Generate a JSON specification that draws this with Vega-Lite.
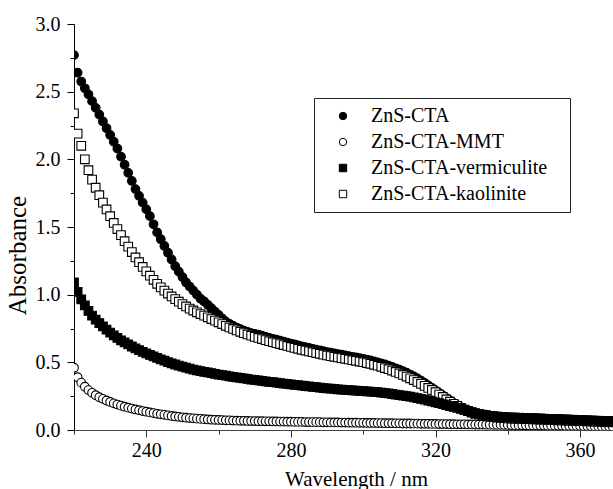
{"$schema":"https://vega.github.io/schema/vega-lite/v6.json","width":539,"height":406,"autosize":{"type":"none"},"padding":{"left":74,"top":24,"right":0,"bottom":59},"background":"white","config":{"view":{"stroke":null},"font":"'Liberation Serif', 'Times New Roman', Times, serif"},
"data":{"values":[
{"w":220,"a":2.77,"s":"ZnS-CTA"},{"w":221,"a":2.64,"s":"ZnS-CTA"},{"w":222,"a":2.575,"s":"ZnS-CTA"},{"w":223,"a":2.525,"s":"ZnS-CTA"},{"w":224,"a":2.48,"s":"ZnS-CTA"},{"w":225,"a":2.43,"s":"ZnS-CTA"},{"w":226,"a":2.38,"s":"ZnS-CTA"},{"w":227,"a":2.33,"s":"ZnS-CTA"},{"w":228,"a":2.28,"s":"ZnS-CTA"},{"w":229,"a":2.23,"s":"ZnS-CTA"},{"w":230,"a":2.18,"s":"ZnS-CTA"},{"w":231,"a":2.13,"s":"ZnS-CTA"},{"w":232,"a":2.08,"s":"ZnS-CTA"},{"w":233,"a":2.02,"s":"ZnS-CTA"},{"w":234,"a":1.96,"s":"ZnS-CTA"},{"w":235,"a":1.9,"s":"ZnS-CTA"},{"w":236,"a":1.84,"s":"ZnS-CTA"},{"w":237,"a":1.78,"s":"ZnS-CTA"},{"w":238,"a":1.73,"s":"ZnS-CTA"},{"w":239,"a":1.68,"s":"ZnS-CTA"},{"w":240,"a":1.63,"s":"ZnS-CTA"},{"w":241,"a":1.58,"s":"ZnS-CTA"},{"w":242,"a":1.52,"s":"ZnS-CTA"},{"w":243,"a":1.46,"s":"ZnS-CTA"},{"w":244,"a":1.41,"s":"ZnS-CTA"},{"w":245,"a":1.36,"s":"ZnS-CTA"},{"w":246,"a":1.31,"s":"ZnS-CTA"},{"w":247,"a":1.26,"s":"ZnS-CTA"},{"w":248,"a":1.21,"s":"ZnS-CTA"},{"w":249,"a":1.17,"s":"ZnS-CTA"},{"w":250,"a":1.13,"s":"ZnS-CTA"},{"w":251,"a":1.09,"s":"ZnS-CTA"},{"w":252,"a":1.06,"s":"ZnS-CTA"},{"w":253,"a":1.03,"s":"ZnS-CTA"},{"w":254,"a":1.0,"s":"ZnS-CTA"},{"w":255,"a":0.97,"s":"ZnS-CTA"},{"w":256,"a":0.95,"s":"ZnS-CTA"},{"w":257,"a":0.925,"s":"ZnS-CTA"},{"w":258,"a":0.9,"s":"ZnS-CTA"},{"w":259,"a":0.875,"s":"ZnS-CTA"},{"w":260,"a":0.85,"s":"ZnS-CTA"},{"w":261,"a":0.825,"s":"ZnS-CTA"},{"w":262,"a":0.8,"s":"ZnS-CTA"},{"w":263,"a":0.785,"s":"ZnS-CTA"},{"w":264,"a":0.77,"s":"ZnS-CTA"},{"w":265,"a":0.757,"s":"ZnS-CTA"},{"w":266,"a":0.745,"s":"ZnS-CTA"},{"w":267,"a":0.735,"s":"ZnS-CTA"},{"w":268,"a":0.725,"s":"ZnS-CTA"},{"w":269,"a":0.716,"s":"ZnS-CTA"},{"w":270,"a":0.71,"s":"ZnS-CTA"},{"w":271,"a":0.705,"s":"ZnS-CTA"},{"w":272,"a":0.697,"s":"ZnS-CTA"},{"w":273,"a":0.689,"s":"ZnS-CTA"},{"w":274,"a":0.681,"s":"ZnS-CTA"},{"w":275,"a":0.674,"s":"ZnS-CTA"},{"w":276,"a":0.667,"s":"ZnS-CTA"},{"w":277,"a":0.66,"s":"ZnS-CTA"},{"w":278,"a":0.653,"s":"ZnS-CTA"},{"w":279,"a":0.646,"s":"ZnS-CTA"},{"w":280,"a":0.639,"s":"ZnS-CTA"},{"w":281,"a":0.632,"s":"ZnS-CTA"},{"w":282,"a":0.625,"s":"ZnS-CTA"},{"w":283,"a":0.618,"s":"ZnS-CTA"},{"w":284,"a":0.612,"s":"ZnS-CTA"},{"w":285,"a":0.606,"s":"ZnS-CTA"},{"w":286,"a":0.6,"s":"ZnS-CTA"},{"w":287,"a":0.594,"s":"ZnS-CTA"},{"w":288,"a":0.588,"s":"ZnS-CTA"},{"w":289,"a":0.582,"s":"ZnS-CTA"},{"w":290,"a":0.576,"s":"ZnS-CTA"},{"w":291,"a":0.571,"s":"ZnS-CTA"},{"w":292,"a":0.566,"s":"ZnS-CTA"},{"w":293,"a":0.561,"s":"ZnS-CTA"},{"w":294,"a":0.556,"s":"ZnS-CTA"},{"w":295,"a":0.551,"s":"ZnS-CTA"},{"w":296,"a":0.546,"s":"ZnS-CTA"},{"w":297,"a":0.541,"s":"ZnS-CTA"},{"w":298,"a":0.536,"s":"ZnS-CTA"},{"w":299,"a":0.531,"s":"ZnS-CTA"},{"w":300,"a":0.526,"s":"ZnS-CTA"},{"w":301,"a":0.52,"s":"ZnS-CTA"},{"w":302,"a":0.514,"s":"ZnS-CTA"},{"w":303,"a":0.507,"s":"ZnS-CTA"},{"w":304,"a":0.5,"s":"ZnS-CTA"},{"w":305,"a":0.492,"s":"ZnS-CTA"},{"w":306,"a":0.484,"s":"ZnS-CTA"},{"w":307,"a":0.475,"s":"ZnS-CTA"},{"w":308,"a":0.466,"s":"ZnS-CTA"},{"w":309,"a":0.456,"s":"ZnS-CTA"},{"w":310,"a":0.446,"s":"ZnS-CTA"},{"w":311,"a":0.435,"s":"ZnS-CTA"},{"w":312,"a":0.423,"s":"ZnS-CTA"},{"w":313,"a":0.41,"s":"ZnS-CTA"},{"w":314,"a":0.396,"s":"ZnS-CTA"},{"w":315,"a":0.381,"s":"ZnS-CTA"},{"w":316,"a":0.365,"s":"ZnS-CTA"},{"w":317,"a":0.348,"s":"ZnS-CTA"},{"w":318,"a":0.33,"s":"ZnS-CTA"},{"w":319,"a":0.312,"s":"ZnS-CTA"},{"w":320,"a":0.293,"s":"ZnS-CTA"},{"w":321,"a":0.274,"s":"ZnS-CTA"},{"w":322,"a":0.255,"s":"ZnS-CTA"},{"w":323,"a":0.236,"s":"ZnS-CTA"},{"w":324,"a":0.218,"s":"ZnS-CTA"},{"w":325,"a":0.2,"s":"ZnS-CTA"},{"w":326,"a":0.184,"s":"ZnS-CTA"},{"w":327,"a":0.169,"s":"ZnS-CTA"},{"w":328,"a":0.155,"s":"ZnS-CTA"},{"w":329,"a":0.143,"s":"ZnS-CTA"},{"w":330,"a":0.133,"s":"ZnS-CTA"},{"w":331,"a":0.125,"s":"ZnS-CTA"},{"w":332,"a":0.118,"s":"ZnS-CTA"},{"w":333,"a":0.113,"s":"ZnS-CTA"},{"w":334,"a":0.109,"s":"ZnS-CTA"},{"w":335,"a":0.106,"s":"ZnS-CTA"},{"w":336,"a":0.103,"s":"ZnS-CTA"},{"w":337,"a":0.101,"s":"ZnS-CTA"},{"w":338,"a":0.099,"s":"ZnS-CTA"},{"w":339,"a":0.097,"s":"ZnS-CTA"},{"w":340,"a":0.095,"s":"ZnS-CTA"},{"w":341,"a":0.094,"s":"ZnS-CTA"},{"w":342,"a":0.093,"s":"ZnS-CTA"},{"w":343,"a":0.092,"s":"ZnS-CTA"},{"w":344,"a":0.091,"s":"ZnS-CTA"},{"w":345,"a":0.09,"s":"ZnS-CTA"},{"w":346,"a":0.089,"s":"ZnS-CTA"},{"w":347,"a":0.088,"s":"ZnS-CTA"},{"w":348,"a":0.087,"s":"ZnS-CTA"},{"w":349,"a":0.086,"s":"ZnS-CTA"},{"w":350,"a":0.085,"s":"ZnS-CTA"},{"w":351,"a":0.084,"s":"ZnS-CTA"},{"w":352,"a":0.083,"s":"ZnS-CTA"},{"w":353,"a":0.082,"s":"ZnS-CTA"},{"w":354,"a":0.081,"s":"ZnS-CTA"},{"w":355,"a":0.08,"s":"ZnS-CTA"},{"w":356,"a":0.079,"s":"ZnS-CTA"},{"w":357,"a":0.078,"s":"ZnS-CTA"},{"w":358,"a":0.077,"s":"ZnS-CTA"},{"w":359,"a":0.076,"s":"ZnS-CTA"},{"w":360,"a":0.075,"s":"ZnS-CTA"},{"w":361,"a":0.074,"s":"ZnS-CTA"},{"w":362,"a":0.073,"s":"ZnS-CTA"},{"w":363,"a":0.072,"s":"ZnS-CTA"},{"w":364,"a":0.071,"s":"ZnS-CTA"},{"w":365,"a":0.07,"s":"ZnS-CTA"},{"w":366,"a":0.069,"s":"ZnS-CTA"},{"w":367,"a":0.068,"s":"ZnS-CTA"},{"w":368,"a":0.067,"s":"ZnS-CTA"},{"w":369,"a":0.066,"s":"ZnS-CTA"},
{"w":220,"a":0.46,"s":"ZnS-CTA-MMT"},{"w":221,"a":0.39,"s":"ZnS-CTA-MMT"},{"w":222,"a":0.35,"s":"ZnS-CTA-MMT"},{"w":223,"a":0.32,"s":"ZnS-CTA-MMT"},{"w":224,"a":0.295,"s":"ZnS-CTA-MMT"},{"w":225,"a":0.275,"s":"ZnS-CTA-MMT"},{"w":226,"a":0.257,"s":"ZnS-CTA-MMT"},{"w":227,"a":0.242,"s":"ZnS-CTA-MMT"},{"w":228,"a":0.23,"s":"ZnS-CTA-MMT"},{"w":229,"a":0.218,"s":"ZnS-CTA-MMT"},{"w":230,"a":0.207,"s":"ZnS-CTA-MMT"},{"w":231,"a":0.197,"s":"ZnS-CTA-MMT"},{"w":232,"a":0.188,"s":"ZnS-CTA-MMT"},{"w":233,"a":0.18,"s":"ZnS-CTA-MMT"},{"w":234,"a":0.172,"s":"ZnS-CTA-MMT"},{"w":235,"a":0.165,"s":"ZnS-CTA-MMT"},{"w":236,"a":0.158,"s":"ZnS-CTA-MMT"},{"w":237,"a":0.152,"s":"ZnS-CTA-MMT"},{"w":238,"a":0.146,"s":"ZnS-CTA-MMT"},{"w":239,"a":0.14,"s":"ZnS-CTA-MMT"},{"w":240,"a":0.135,"s":"ZnS-CTA-MMT"},{"w":241,"a":0.13,"s":"ZnS-CTA-MMT"},{"w":242,"a":0.125,"s":"ZnS-CTA-MMT"},{"w":243,"a":0.12,"s":"ZnS-CTA-MMT"},{"w":244,"a":0.116,"s":"ZnS-CTA-MMT"},{"w":245,"a":0.112,"s":"ZnS-CTA-MMT"},{"w":246,"a":0.108,"s":"ZnS-CTA-MMT"},{"w":247,"a":0.104,"s":"ZnS-CTA-MMT"},{"w":248,"a":0.1,"s":"ZnS-CTA-MMT"},{"w":249,"a":0.097,"s":"ZnS-CTA-MMT"},{"w":250,"a":0.094,"s":"ZnS-CTA-MMT"},{"w":251,"a":0.091,"s":"ZnS-CTA-MMT"},{"w":252,"a":0.088,"s":"ZnS-CTA-MMT"},{"w":253,"a":0.086,"s":"ZnS-CTA-MMT"},{"w":254,"a":0.084,"s":"ZnS-CTA-MMT"},{"w":255,"a":0.082,"s":"ZnS-CTA-MMT"},{"w":256,"a":0.08,"s":"ZnS-CTA-MMT"},{"w":257,"a":0.078,"s":"ZnS-CTA-MMT"},{"w":258,"a":0.076,"s":"ZnS-CTA-MMT"},{"w":259,"a":0.075,"s":"ZnS-CTA-MMT"},{"w":260,"a":0.074,"s":"ZnS-CTA-MMT"},{"w":261,"a":0.073,"s":"ZnS-CTA-MMT"},{"w":262,"a":0.072,"s":"ZnS-CTA-MMT"},{"w":263,"a":0.071,"s":"ZnS-CTA-MMT"},{"w":264,"a":0.07,"s":"ZnS-CTA-MMT"},{"w":265,"a":0.069,"s":"ZnS-CTA-MMT"},{"w":266,"a":0.068,"s":"ZnS-CTA-MMT"},{"w":267,"a":0.068,"s":"ZnS-CTA-MMT"},{"w":268,"a":0.067,"s":"ZnS-CTA-MMT"},{"w":269,"a":0.066,"s":"ZnS-CTA-MMT"},{"w":270,"a":0.066,"s":"ZnS-CTA-MMT"},{"w":271,"a":0.065,"s":"ZnS-CTA-MMT"},{"w":272,"a":0.065,"s":"ZnS-CTA-MMT"},{"w":273,"a":0.064,"s":"ZnS-CTA-MMT"},{"w":274,"a":0.064,"s":"ZnS-CTA-MMT"},{"w":275,"a":0.063,"s":"ZnS-CTA-MMT"},{"w":276,"a":0.063,"s":"ZnS-CTA-MMT"},{"w":277,"a":0.062,"s":"ZnS-CTA-MMT"},{"w":278,"a":0.062,"s":"ZnS-CTA-MMT"},{"w":279,"a":0.061,"s":"ZnS-CTA-MMT"},{"w":280,"a":0.061,"s":"ZnS-CTA-MMT"},{"w":281,"a":0.06,"s":"ZnS-CTA-MMT"},{"w":282,"a":0.06,"s":"ZnS-CTA-MMT"},{"w":283,"a":0.06,"s":"ZnS-CTA-MMT"},{"w":284,"a":0.059,"s":"ZnS-CTA-MMT"},{"w":285,"a":0.059,"s":"ZnS-CTA-MMT"},{"w":286,"a":0.058,"s":"ZnS-CTA-MMT"},{"w":287,"a":0.058,"s":"ZnS-CTA-MMT"},{"w":288,"a":0.058,"s":"ZnS-CTA-MMT"},{"w":289,"a":0.057,"s":"ZnS-CTA-MMT"},{"w":290,"a":0.057,"s":"ZnS-CTA-MMT"},{"w":291,"a":0.056,"s":"ZnS-CTA-MMT"},{"w":292,"a":0.056,"s":"ZnS-CTA-MMT"},{"w":293,"a":0.056,"s":"ZnS-CTA-MMT"},{"w":294,"a":0.055,"s":"ZnS-CTA-MMT"},{"w":295,"a":0.055,"s":"ZnS-CTA-MMT"},{"w":296,"a":0.054,"s":"ZnS-CTA-MMT"},{"w":297,"a":0.054,"s":"ZnS-CTA-MMT"},{"w":298,"a":0.054,"s":"ZnS-CTA-MMT"},{"w":299,"a":0.053,"s":"ZnS-CTA-MMT"},{"w":300,"a":0.053,"s":"ZnS-CTA-MMT"},{"w":301,"a":0.052,"s":"ZnS-CTA-MMT"},{"w":302,"a":0.052,"s":"ZnS-CTA-MMT"},{"w":303,"a":0.052,"s":"ZnS-CTA-MMT"},{"w":304,"a":0.051,"s":"ZnS-CTA-MMT"},{"w":305,"a":0.051,"s":"ZnS-CTA-MMT"},{"w":306,"a":0.05,"s":"ZnS-CTA-MMT"},{"w":307,"a":0.05,"s":"ZnS-CTA-MMT"},{"w":308,"a":0.05,"s":"ZnS-CTA-MMT"},{"w":309,"a":0.049,"s":"ZnS-CTA-MMT"},{"w":310,"a":0.049,"s":"ZnS-CTA-MMT"},{"w":311,"a":0.048,"s":"ZnS-CTA-MMT"},{"w":312,"a":0.048,"s":"ZnS-CTA-MMT"},{"w":313,"a":0.048,"s":"ZnS-CTA-MMT"},{"w":314,"a":0.047,"s":"ZnS-CTA-MMT"},{"w":315,"a":0.047,"s":"ZnS-CTA-MMT"},{"w":316,"a":0.046,"s":"ZnS-CTA-MMT"},{"w":317,"a":0.046,"s":"ZnS-CTA-MMT"},{"w":318,"a":0.046,"s":"ZnS-CTA-MMT"},{"w":319,"a":0.045,"s":"ZnS-CTA-MMT"},{"w":320,"a":0.045,"s":"ZnS-CTA-MMT"},{"w":321,"a":0.044,"s":"ZnS-CTA-MMT"},{"w":322,"a":0.044,"s":"ZnS-CTA-MMT"},{"w":323,"a":0.044,"s":"ZnS-CTA-MMT"},{"w":324,"a":0.043,"s":"ZnS-CTA-MMT"},{"w":325,"a":0.043,"s":"ZnS-CTA-MMT"},{"w":326,"a":0.042,"s":"ZnS-CTA-MMT"},{"w":327,"a":0.042,"s":"ZnS-CTA-MMT"},{"w":328,"a":0.042,"s":"ZnS-CTA-MMT"},{"w":329,"a":0.041,"s":"ZnS-CTA-MMT"},{"w":330,"a":0.041,"s":"ZnS-CTA-MMT"},{"w":331,"a":0.04,"s":"ZnS-CTA-MMT"},{"w":332,"a":0.04,"s":"ZnS-CTA-MMT"},{"w":333,"a":0.04,"s":"ZnS-CTA-MMT"},{"w":334,"a":0.039,"s":"ZnS-CTA-MMT"},{"w":335,"a":0.039,"s":"ZnS-CTA-MMT"},{"w":336,"a":0.038,"s":"ZnS-CTA-MMT"},{"w":337,"a":0.038,"s":"ZnS-CTA-MMT"},{"w":338,"a":0.038,"s":"ZnS-CTA-MMT"},{"w":339,"a":0.037,"s":"ZnS-CTA-MMT"},{"w":340,"a":0.037,"s":"ZnS-CTA-MMT"},{"w":341,"a":0.036,"s":"ZnS-CTA-MMT"},{"w":342,"a":0.036,"s":"ZnS-CTA-MMT"},{"w":343,"a":0.036,"s":"ZnS-CTA-MMT"},{"w":344,"a":0.035,"s":"ZnS-CTA-MMT"},{"w":345,"a":0.035,"s":"ZnS-CTA-MMT"},{"w":346,"a":0.034,"s":"ZnS-CTA-MMT"},{"w":347,"a":0.034,"s":"ZnS-CTA-MMT"},{"w":348,"a":0.034,"s":"ZnS-CTA-MMT"},{"w":349,"a":0.033,"s":"ZnS-CTA-MMT"},{"w":350,"a":0.033,"s":"ZnS-CTA-MMT"},{"w":351,"a":0.032,"s":"ZnS-CTA-MMT"},{"w":352,"a":0.032,"s":"ZnS-CTA-MMT"},{"w":353,"a":0.032,"s":"ZnS-CTA-MMT"},{"w":354,"a":0.031,"s":"ZnS-CTA-MMT"},{"w":355,"a":0.031,"s":"ZnS-CTA-MMT"},{"w":356,"a":0.03,"s":"ZnS-CTA-MMT"},{"w":357,"a":0.03,"s":"ZnS-CTA-MMT"},{"w":358,"a":0.03,"s":"ZnS-CTA-MMT"},{"w":359,"a":0.029,"s":"ZnS-CTA-MMT"},{"w":360,"a":0.029,"s":"ZnS-CTA-MMT"},{"w":361,"a":0.028,"s":"ZnS-CTA-MMT"},{"w":362,"a":0.028,"s":"ZnS-CTA-MMT"},{"w":363,"a":0.028,"s":"ZnS-CTA-MMT"},{"w":364,"a":0.027,"s":"ZnS-CTA-MMT"},{"w":365,"a":0.027,"s":"ZnS-CTA-MMT"},{"w":366,"a":0.026,"s":"ZnS-CTA-MMT"},{"w":367,"a":0.026,"s":"ZnS-CTA-MMT"},{"w":368,"a":0.026,"s":"ZnS-CTA-MMT"},{"w":369,"a":0.025,"s":"ZnS-CTA-MMT"},
{"w":220,"a":2.34,"s":"ZnS-CTA-kaolinite"},{"w":221,"a":2.19,"s":"ZnS-CTA-kaolinite"},{"w":222,"a":2.1,"s":"ZnS-CTA-kaolinite"},{"w":223,"a":2.0,"s":"ZnS-CTA-kaolinite"},{"w":224,"a":1.92,"s":"ZnS-CTA-kaolinite"},{"w":225,"a":1.85,"s":"ZnS-CTA-kaolinite"},{"w":226,"a":1.79,"s":"ZnS-CTA-kaolinite"},{"w":227,"a":1.735,"s":"ZnS-CTA-kaolinite"},{"w":228,"a":1.68,"s":"ZnS-CTA-kaolinite"},{"w":229,"a":1.63,"s":"ZnS-CTA-kaolinite"},{"w":230,"a":1.58,"s":"ZnS-CTA-kaolinite"},{"w":231,"a":1.53,"s":"ZnS-CTA-kaolinite"},{"w":232,"a":1.485,"s":"ZnS-CTA-kaolinite"},{"w":233,"a":1.44,"s":"ZnS-CTA-kaolinite"},{"w":234,"a":1.395,"s":"ZnS-CTA-kaolinite"},{"w":235,"a":1.355,"s":"ZnS-CTA-kaolinite"},{"w":236,"a":1.315,"s":"ZnS-CTA-kaolinite"},{"w":237,"a":1.275,"s":"ZnS-CTA-kaolinite"},{"w":238,"a":1.24,"s":"ZnS-CTA-kaolinite"},{"w":239,"a":1.205,"s":"ZnS-CTA-kaolinite"},{"w":240,"a":1.172,"s":"ZnS-CTA-kaolinite"},{"w":241,"a":1.14,"s":"ZnS-CTA-kaolinite"},{"w":242,"a":1.11,"s":"ZnS-CTA-kaolinite"},{"w":243,"a":1.08,"s":"ZnS-CTA-kaolinite"},{"w":244,"a":1.054,"s":"ZnS-CTA-kaolinite"},{"w":245,"a":1.03,"s":"ZnS-CTA-kaolinite"},{"w":246,"a":1.008,"s":"ZnS-CTA-kaolinite"},{"w":247,"a":0.987,"s":"ZnS-CTA-kaolinite"},{"w":248,"a":0.967,"s":"ZnS-CTA-kaolinite"},{"w":249,"a":0.948,"s":"ZnS-CTA-kaolinite"},{"w":250,"a":0.93,"s":"ZnS-CTA-kaolinite"},{"w":251,"a":0.913,"s":"ZnS-CTA-kaolinite"},{"w":252,"a":0.897,"s":"ZnS-CTA-kaolinite"},{"w":253,"a":0.883,"s":"ZnS-CTA-kaolinite"},{"w":254,"a":0.87,"s":"ZnS-CTA-kaolinite"},{"w":255,"a":0.857,"s":"ZnS-CTA-kaolinite"},{"w":256,"a":0.845,"s":"ZnS-CTA-kaolinite"},{"w":257,"a":0.833,"s":"ZnS-CTA-kaolinite"},{"w":258,"a":0.82,"s":"ZnS-CTA-kaolinite"},{"w":259,"a":0.808,"s":"ZnS-CTA-kaolinite"},{"w":260,"a":0.796,"s":"ZnS-CTA-kaolinite"},{"w":261,"a":0.783,"s":"ZnS-CTA-kaolinite"},{"w":262,"a":0.77,"s":"ZnS-CTA-kaolinite"},{"w":263,"a":0.758,"s":"ZnS-CTA-kaolinite"},{"w":264,"a":0.747,"s":"ZnS-CTA-kaolinite"},{"w":265,"a":0.736,"s":"ZnS-CTA-kaolinite"},{"w":266,"a":0.726,"s":"ZnS-CTA-kaolinite"},{"w":267,"a":0.716,"s":"ZnS-CTA-kaolinite"},{"w":268,"a":0.706,"s":"ZnS-CTA-kaolinite"},{"w":269,"a":0.697,"s":"ZnS-CTA-kaolinite"},{"w":270,"a":0.688,"s":"ZnS-CTA-kaolinite"},{"w":271,"a":0.68,"s":"ZnS-CTA-kaolinite"},{"w":272,"a":0.672,"s":"ZnS-CTA-kaolinite"},{"w":273,"a":0.664,"s":"ZnS-CTA-kaolinite"},{"w":274,"a":0.656,"s":"ZnS-CTA-kaolinite"},{"w":275,"a":0.649,"s":"ZnS-CTA-kaolinite"},{"w":276,"a":0.642,"s":"ZnS-CTA-kaolinite"},{"w":277,"a":0.635,"s":"ZnS-CTA-kaolinite"},{"w":278,"a":0.628,"s":"ZnS-CTA-kaolinite"},{"w":279,"a":0.621,"s":"ZnS-CTA-kaolinite"},{"w":280,"a":0.614,"s":"ZnS-CTA-kaolinite"},{"w":281,"a":0.607,"s":"ZnS-CTA-kaolinite"},{"w":282,"a":0.6,"s":"ZnS-CTA-kaolinite"},{"w":283,"a":0.593,"s":"ZnS-CTA-kaolinite"},{"w":284,"a":0.587,"s":"ZnS-CTA-kaolinite"},{"w":285,"a":0.581,"s":"ZnS-CTA-kaolinite"},{"w":286,"a":0.575,"s":"ZnS-CTA-kaolinite"},{"w":287,"a":0.569,"s":"ZnS-CTA-kaolinite"},{"w":288,"a":0.563,"s":"ZnS-CTA-kaolinite"},{"w":289,"a":0.557,"s":"ZnS-CTA-kaolinite"},{"w":290,"a":0.551,"s":"ZnS-CTA-kaolinite"},{"w":291,"a":0.546,"s":"ZnS-CTA-kaolinite"},{"w":292,"a":0.541,"s":"ZnS-CTA-kaolinite"},{"w":293,"a":0.536,"s":"ZnS-CTA-kaolinite"},{"w":294,"a":0.531,"s":"ZnS-CTA-kaolinite"},{"w":295,"a":0.526,"s":"ZnS-CTA-kaolinite"},{"w":296,"a":0.521,"s":"ZnS-CTA-kaolinite"},{"w":297,"a":0.516,"s":"ZnS-CTA-kaolinite"},{"w":298,"a":0.511,"s":"ZnS-CTA-kaolinite"},{"w":299,"a":0.506,"s":"ZnS-CTA-kaolinite"},{"w":300,"a":0.501,"s":"ZnS-CTA-kaolinite"},{"w":301,"a":0.495,"s":"ZnS-CTA-kaolinite"},{"w":302,"a":0.489,"s":"ZnS-CTA-kaolinite"},{"w":303,"a":0.482,"s":"ZnS-CTA-kaolinite"},{"w":304,"a":0.475,"s":"ZnS-CTA-kaolinite"},{"w":305,"a":0.467,"s":"ZnS-CTA-kaolinite"},{"w":306,"a":0.458,"s":"ZnS-CTA-kaolinite"},{"w":307,"a":0.449,"s":"ZnS-CTA-kaolinite"},{"w":308,"a":0.439,"s":"ZnS-CTA-kaolinite"},{"w":309,"a":0.429,"s":"ZnS-CTA-kaolinite"},{"w":310,"a":0.418,"s":"ZnS-CTA-kaolinite"},{"w":311,"a":0.407,"s":"ZnS-CTA-kaolinite"},{"w":312,"a":0.395,"s":"ZnS-CTA-kaolinite"},{"w":313,"a":0.382,"s":"ZnS-CTA-kaolinite"},{"w":314,"a":0.369,"s":"ZnS-CTA-kaolinite"},{"w":315,"a":0.355,"s":"ZnS-CTA-kaolinite"},{"w":316,"a":0.341,"s":"ZnS-CTA-kaolinite"},{"w":317,"a":0.326,"s":"ZnS-CTA-kaolinite"},{"w":318,"a":0.311,"s":"ZnS-CTA-kaolinite"},{"w":319,"a":0.296,"s":"ZnS-CTA-kaolinite"},{"w":320,"a":0.279,"s":"ZnS-CTA-kaolinite"},{"w":321,"a":0.262,"s":"ZnS-CTA-kaolinite"},{"w":322,"a":0.244,"s":"ZnS-CTA-kaolinite"},{"w":323,"a":0.226,"s":"ZnS-CTA-kaolinite"},{"w":324,"a":0.209,"s":"ZnS-CTA-kaolinite"},{"w":325,"a":0.193,"s":"ZnS-CTA-kaolinite"},{"w":326,"a":0.178,"s":"ZnS-CTA-kaolinite"},{"w":327,"a":0.164,"s":"ZnS-CTA-kaolinite"},{"w":328,"a":0.151,"s":"ZnS-CTA-kaolinite"},{"w":329,"a":0.139,"s":"ZnS-CTA-kaolinite"},{"w":330,"a":0.129,"s":"ZnS-CTA-kaolinite"},{"w":331,"a":0.12,"s":"ZnS-CTA-kaolinite"},{"w":332,"a":0.113,"s":"ZnS-CTA-kaolinite"},{"w":333,"a":0.107,"s":"ZnS-CTA-kaolinite"},{"w":334,"a":0.102,"s":"ZnS-CTA-kaolinite"},{"w":335,"a":0.098,"s":"ZnS-CTA-kaolinite"},{"w":336,"a":0.095,"s":"ZnS-CTA-kaolinite"},{"w":337,"a":0.092,"s":"ZnS-CTA-kaolinite"},{"w":338,"a":0.09,"s":"ZnS-CTA-kaolinite"},{"w":339,"a":0.088,"s":"ZnS-CTA-kaolinite"},{"w":340,"a":0.086,"s":"ZnS-CTA-kaolinite"},{"w":341,"a":0.085,"s":"ZnS-CTA-kaolinite"},{"w":342,"a":0.084,"s":"ZnS-CTA-kaolinite"},{"w":343,"a":0.083,"s":"ZnS-CTA-kaolinite"},{"w":344,"a":0.082,"s":"ZnS-CTA-kaolinite"},{"w":345,"a":0.081,"s":"ZnS-CTA-kaolinite"},{"w":346,"a":0.08,"s":"ZnS-CTA-kaolinite"},{"w":347,"a":0.079,"s":"ZnS-CTA-kaolinite"},{"w":348,"a":0.078,"s":"ZnS-CTA-kaolinite"},{"w":349,"a":0.077,"s":"ZnS-CTA-kaolinite"},{"w":350,"a":0.076,"s":"ZnS-CTA-kaolinite"},{"w":351,"a":0.075,"s":"ZnS-CTA-kaolinite"},{"w":352,"a":0.074,"s":"ZnS-CTA-kaolinite"},{"w":353,"a":0.073,"s":"ZnS-CTA-kaolinite"},{"w":354,"a":0.072,"s":"ZnS-CTA-kaolinite"},{"w":355,"a":0.071,"s":"ZnS-CTA-kaolinite"},{"w":356,"a":0.07,"s":"ZnS-CTA-kaolinite"},{"w":357,"a":0.069,"s":"ZnS-CTA-kaolinite"},{"w":358,"a":0.068,"s":"ZnS-CTA-kaolinite"},{"w":359,"a":0.067,"s":"ZnS-CTA-kaolinite"},{"w":360,"a":0.066,"s":"ZnS-CTA-kaolinite"},{"w":361,"a":0.065,"s":"ZnS-CTA-kaolinite"},{"w":362,"a":0.064,"s":"ZnS-CTA-kaolinite"},{"w":363,"a":0.063,"s":"ZnS-CTA-kaolinite"},{"w":364,"a":0.062,"s":"ZnS-CTA-kaolinite"},{"w":365,"a":0.061,"s":"ZnS-CTA-kaolinite"},{"w":366,"a":0.06,"s":"ZnS-CTA-kaolinite"},{"w":367,"a":0.059,"s":"ZnS-CTA-kaolinite"},{"w":368,"a":0.058,"s":"ZnS-CTA-kaolinite"},{"w":369,"a":0.057,"s":"ZnS-CTA-kaolinite"},
{"w":220,"a":1.09,"s":"ZnS-CTA-vermiculite"},{"w":221,"a":1.02,"s":"ZnS-CTA-vermiculite"},{"w":222,"a":0.965,"s":"ZnS-CTA-vermiculite"},{"w":223,"a":0.92,"s":"ZnS-CTA-vermiculite"},{"w":224,"a":0.88,"s":"ZnS-CTA-vermiculite"},{"w":225,"a":0.845,"s":"ZnS-CTA-vermiculite"},{"w":226,"a":0.815,"s":"ZnS-CTA-vermiculite"},{"w":227,"a":0.79,"s":"ZnS-CTA-vermiculite"},{"w":228,"a":0.765,"s":"ZnS-CTA-vermiculite"},{"w":229,"a":0.742,"s":"ZnS-CTA-vermiculite"},{"w":230,"a":0.72,"s":"ZnS-CTA-vermiculite"},{"w":231,"a":0.7,"s":"ZnS-CTA-vermiculite"},{"w":232,"a":0.68,"s":"ZnS-CTA-vermiculite"},{"w":233,"a":0.663,"s":"ZnS-CTA-vermiculite"},{"w":234,"a":0.647,"s":"ZnS-CTA-vermiculite"},{"w":235,"a":0.632,"s":"ZnS-CTA-vermiculite"},{"w":236,"a":0.617,"s":"ZnS-CTA-vermiculite"},{"w":237,"a":0.603,"s":"ZnS-CTA-vermiculite"},{"w":238,"a":0.59,"s":"ZnS-CTA-vermiculite"},{"w":239,"a":0.578,"s":"ZnS-CTA-vermiculite"},{"w":240,"a":0.566,"s":"ZnS-CTA-vermiculite"},{"w":241,"a":0.555,"s":"ZnS-CTA-vermiculite"},{"w":242,"a":0.544,"s":"ZnS-CTA-vermiculite"},{"w":243,"a":0.533,"s":"ZnS-CTA-vermiculite"},{"w":244,"a":0.522,"s":"ZnS-CTA-vermiculite"},{"w":245,"a":0.512,"s":"ZnS-CTA-vermiculite"},{"w":246,"a":0.502,"s":"ZnS-CTA-vermiculite"},{"w":247,"a":0.493,"s":"ZnS-CTA-vermiculite"},{"w":248,"a":0.484,"s":"ZnS-CTA-vermiculite"},{"w":249,"a":0.476,"s":"ZnS-CTA-vermiculite"},{"w":250,"a":0.468,"s":"ZnS-CTA-vermiculite"},{"w":251,"a":0.461,"s":"ZnS-CTA-vermiculite"},{"w":252,"a":0.454,"s":"ZnS-CTA-vermiculite"},{"w":253,"a":0.447,"s":"ZnS-CTA-vermiculite"},{"w":254,"a":0.441,"s":"ZnS-CTA-vermiculite"},{"w":255,"a":0.435,"s":"ZnS-CTA-vermiculite"},{"w":256,"a":0.43,"s":"ZnS-CTA-vermiculite"},{"w":257,"a":0.425,"s":"ZnS-CTA-vermiculite"},{"w":258,"a":0.42,"s":"ZnS-CTA-vermiculite"},{"w":259,"a":0.415,"s":"ZnS-CTA-vermiculite"},{"w":260,"a":0.41,"s":"ZnS-CTA-vermiculite"},{"w":261,"a":0.405,"s":"ZnS-CTA-vermiculite"},{"w":262,"a":0.401,"s":"ZnS-CTA-vermiculite"},{"w":263,"a":0.397,"s":"ZnS-CTA-vermiculite"},{"w":264,"a":0.393,"s":"ZnS-CTA-vermiculite"},{"w":265,"a":0.389,"s":"ZnS-CTA-vermiculite"},{"w":266,"a":0.385,"s":"ZnS-CTA-vermiculite"},{"w":267,"a":0.381,"s":"ZnS-CTA-vermiculite"},{"w":268,"a":0.377,"s":"ZnS-CTA-vermiculite"},{"w":269,"a":0.373,"s":"ZnS-CTA-vermiculite"},{"w":270,"a":0.37,"s":"ZnS-CTA-vermiculite"},{"w":271,"a":0.367,"s":"ZnS-CTA-vermiculite"},{"w":272,"a":0.363,"s":"ZnS-CTA-vermiculite"},{"w":273,"a":0.36,"s":"ZnS-CTA-vermiculite"},{"w":274,"a":0.356,"s":"ZnS-CTA-vermiculite"},{"w":275,"a":0.353,"s":"ZnS-CTA-vermiculite"},{"w":276,"a":0.35,"s":"ZnS-CTA-vermiculite"},{"w":277,"a":0.346,"s":"ZnS-CTA-vermiculite"},{"w":278,"a":0.343,"s":"ZnS-CTA-vermiculite"},{"w":279,"a":0.34,"s":"ZnS-CTA-vermiculite"},{"w":280,"a":0.337,"s":"ZnS-CTA-vermiculite"},{"w":281,"a":0.334,"s":"ZnS-CTA-vermiculite"},{"w":282,"a":0.331,"s":"ZnS-CTA-vermiculite"},{"w":283,"a":0.328,"s":"ZnS-CTA-vermiculite"},{"w":284,"a":0.325,"s":"ZnS-CTA-vermiculite"},{"w":285,"a":0.322,"s":"ZnS-CTA-vermiculite"},{"w":286,"a":0.319,"s":"ZnS-CTA-vermiculite"},{"w":287,"a":0.316,"s":"ZnS-CTA-vermiculite"},{"w":288,"a":0.313,"s":"ZnS-CTA-vermiculite"},{"w":289,"a":0.31,"s":"ZnS-CTA-vermiculite"},{"w":290,"a":0.307,"s":"ZnS-CTA-vermiculite"},{"w":291,"a":0.305,"s":"ZnS-CTA-vermiculite"},{"w":292,"a":0.303,"s":"ZnS-CTA-vermiculite"},{"w":293,"a":0.301,"s":"ZnS-CTA-vermiculite"},{"w":294,"a":0.299,"s":"ZnS-CTA-vermiculite"},{"w":295,"a":0.297,"s":"ZnS-CTA-vermiculite"},{"w":296,"a":0.295,"s":"ZnS-CTA-vermiculite"},{"w":297,"a":0.293,"s":"ZnS-CTA-vermiculite"},{"w":298,"a":0.291,"s":"ZnS-CTA-vermiculite"},{"w":299,"a":0.289,"s":"ZnS-CTA-vermiculite"},{"w":300,"a":0.287,"s":"ZnS-CTA-vermiculite"},{"w":301,"a":0.285,"s":"ZnS-CTA-vermiculite"},{"w":302,"a":0.283,"s":"ZnS-CTA-vermiculite"},{"w":303,"a":0.281,"s":"ZnS-CTA-vermiculite"},{"w":304,"a":0.279,"s":"ZnS-CTA-vermiculite"},{"w":305,"a":0.276,"s":"ZnS-CTA-vermiculite"},{"w":306,"a":0.273,"s":"ZnS-CTA-vermiculite"},{"w":307,"a":0.27,"s":"ZnS-CTA-vermiculite"},{"w":308,"a":0.266,"s":"ZnS-CTA-vermiculite"},{"w":309,"a":0.262,"s":"ZnS-CTA-vermiculite"},{"w":310,"a":0.258,"s":"ZnS-CTA-vermiculite"},{"w":311,"a":0.254,"s":"ZnS-CTA-vermiculite"},{"w":312,"a":0.25,"s":"ZnS-CTA-vermiculite"},{"w":313,"a":0.246,"s":"ZnS-CTA-vermiculite"},{"w":314,"a":0.241,"s":"ZnS-CTA-vermiculite"},{"w":315,"a":0.236,"s":"ZnS-CTA-vermiculite"},{"w":316,"a":0.23,"s":"ZnS-CTA-vermiculite"},{"w":317,"a":0.224,"s":"ZnS-CTA-vermiculite"},{"w":318,"a":0.218,"s":"ZnS-CTA-vermiculite"},{"w":319,"a":0.212,"s":"ZnS-CTA-vermiculite"},{"w":320,"a":0.205,"s":"ZnS-CTA-vermiculite"},{"w":321,"a":0.198,"s":"ZnS-CTA-vermiculite"},{"w":322,"a":0.191,"s":"ZnS-CTA-vermiculite"},{"w":323,"a":0.184,"s":"ZnS-CTA-vermiculite"},{"w":324,"a":0.177,"s":"ZnS-CTA-vermiculite"},{"w":325,"a":0.17,"s":"ZnS-CTA-vermiculite"},{"w":326,"a":0.163,"s":"ZnS-CTA-vermiculite"},{"w":327,"a":0.156,"s":"ZnS-CTA-vermiculite"},{"w":328,"a":0.148,"s":"ZnS-CTA-vermiculite"},{"w":329,"a":0.14,"s":"ZnS-CTA-vermiculite"},{"w":330,"a":0.132,"s":"ZnS-CTA-vermiculite"},{"w":331,"a":0.125,"s":"ZnS-CTA-vermiculite"},{"w":332,"a":0.119,"s":"ZnS-CTA-vermiculite"},{"w":333,"a":0.114,"s":"ZnS-CTA-vermiculite"},{"w":334,"a":0.109,"s":"ZnS-CTA-vermiculite"},{"w":335,"a":0.105,"s":"ZnS-CTA-vermiculite"},{"w":336,"a":0.102,"s":"ZnS-CTA-vermiculite"},{"w":337,"a":0.099,"s":"ZnS-CTA-vermiculite"},{"w":338,"a":0.097,"s":"ZnS-CTA-vermiculite"},{"w":339,"a":0.095,"s":"ZnS-CTA-vermiculite"},{"w":340,"a":0.093,"s":"ZnS-CTA-vermiculite"},{"w":341,"a":0.092,"s":"ZnS-CTA-vermiculite"},{"w":342,"a":0.091,"s":"ZnS-CTA-vermiculite"},{"w":343,"a":0.09,"s":"ZnS-CTA-vermiculite"},{"w":344,"a":0.089,"s":"ZnS-CTA-vermiculite"},{"w":345,"a":0.088,"s":"ZnS-CTA-vermiculite"},{"w":346,"a":0.087,"s":"ZnS-CTA-vermiculite"},{"w":347,"a":0.086,"s":"ZnS-CTA-vermiculite"},{"w":348,"a":0.085,"s":"ZnS-CTA-vermiculite"},{"w":349,"a":0.084,"s":"ZnS-CTA-vermiculite"},{"w":350,"a":0.083,"s":"ZnS-CTA-vermiculite"},{"w":351,"a":0.082,"s":"ZnS-CTA-vermiculite"},{"w":352,"a":0.081,"s":"ZnS-CTA-vermiculite"},{"w":353,"a":0.08,"s":"ZnS-CTA-vermiculite"},{"w":354,"a":0.079,"s":"ZnS-CTA-vermiculite"},{"w":355,"a":0.078,"s":"ZnS-CTA-vermiculite"},{"w":356,"a":0.077,"s":"ZnS-CTA-vermiculite"},{"w":357,"a":0.076,"s":"ZnS-CTA-vermiculite"},{"w":358,"a":0.075,"s":"ZnS-CTA-vermiculite"},{"w":359,"a":0.074,"s":"ZnS-CTA-vermiculite"},{"w":360,"a":0.073,"s":"ZnS-CTA-vermiculite"},{"w":361,"a":0.072,"s":"ZnS-CTA-vermiculite"},{"w":362,"a":0.071,"s":"ZnS-CTA-vermiculite"},{"w":363,"a":0.07,"s":"ZnS-CTA-vermiculite"},{"w":364,"a":0.069,"s":"ZnS-CTA-vermiculite"},{"w":365,"a":0.068,"s":"ZnS-CTA-vermiculite"},{"w":366,"a":0.067,"s":"ZnS-CTA-vermiculite"},{"w":367,"a":0.066,"s":"ZnS-CTA-vermiculite"},{"w":368,"a":0.065,"s":"ZnS-CTA-vermiculite"},{"w":369,"a":0.064,"s":"ZnS-CTA-vermiculite"}
]},
"layer":[
{"mark":{"type":"point","clip":true,"strokeWidth":1.1,"opacity":1,"size":75},
"encoding":{
"x":{"field":"w","type":"quantitative","scale":{"domain":[220,369.1],"nice":false,"zero":false},"axis":{"orient":"bottom","values":[240,280,320,360],"format":"d","tickSize":7,"tickColor":"#333","tickWidth":1,"domainColor":"#444","domainWidth":1,"grid":false,"labelFont":"'Liberation Serif', 'Times New Roman', Times, serif","labelFontSize":20,"labelColor":"black","labelPadding":3,"labelFlush":false,"labelOverlap":false,"title":"Wavelength / nm","titleFont":"'Liberation Serif', 'Times New Roman', Times, serif","titleFontSize":21,"titleFontWeight":"normal","titleColor":"black","titleX":282,"titleY":55,"titleBaseline":"alphabetic","titleAlign":"center"}},
"y":{"field":"a","type":"quantitative","scale":{"domain":[0,3],"nice":false,"zero":false},"axis":{"orient":"left","values":[0,0.5,1,1.5,2,2.5,3],"format":".1f","tickSize":7,"tickColor":"black","tickWidth":1,"domainColor":"black","domainWidth":1,"grid":false,"labelFont":"'Liberation Serif', 'Times New Roman', Times, serif","labelFontSize":20,"labelColor":"black","labelPadding":7,"labelOverlap":false,"title":"Absorbance","titleFont":"'Liberation Serif', 'Times New Roman', Times, serif","titleFontSize":25,"titleFontWeight":"normal","titleColor":"black","titleX":-49,"titleY":231,"titleAngle":-90,"titleBaseline":"alphabetic","titleAlign":"center"}},
"stroke":{"field":"s","type":"nominal","scale":{"domain":["ZnS-CTA","ZnS-CTA-MMT","ZnS-CTA-vermiculite","ZnS-CTA-kaolinite"],"range":["black","black","black","black"]},"legend":{"orient":"none","legendX":240,"legendY":74,"title":"\u00a0","titleOrient":"right","titlePadding":15,"titleFontSize":20,"strokeColor":"#222","fillColor":"white","padding":8,"labelFont":"'Liberation Serif', 'Times New Roman', Times, serif","labelFontSize":20,"labelColor":"black","labelLimit":400,"symbolSize":55,"symbolStrokeWidth":1,"symbolOffset":11,"labelOffset":18,"rowPadding":6}},
"shape":{"field":"s","type":"nominal","scale":{"domain":["ZnS-CTA","ZnS-CTA-MMT","ZnS-CTA-vermiculite","ZnS-CTA-kaolinite"],"range":["circle","circle","square","square"]},"legend":{"orient":"none","legendX":240,"legendY":74,"title":"\u00a0","titleOrient":"right","titlePadding":15,"titleFontSize":20,"strokeColor":"#222","fillColor":"white","padding":8,"labelFont":"'Liberation Serif', 'Times New Roman', Times, serif","labelFontSize":20,"labelColor":"black","labelLimit":400,"symbolSize":55,"symbolStrokeWidth":1,"symbolOffset":11,"labelOffset":18,"rowPadding":6}},
"fill":{"field":"s","type":"nominal","scale":{"domain":["ZnS-CTA","ZnS-CTA-MMT","ZnS-CTA-vermiculite","ZnS-CTA-kaolinite"],"range":["black","white","black","white"]},"legend":{"orient":"none","legendX":240,"legendY":74,"title":"\u00a0","titleOrient":"right","titlePadding":15,"titleFontSize":20,"strokeColor":"#222","fillColor":"white","padding":8,"labelFont":"'Liberation Serif', 'Times New Roman', Times, serif","labelFontSize":20,"labelColor":"black","labelLimit":400,"symbolSize":55,"symbolStrokeWidth":1,"symbolOffset":11,"labelOffset":18,"rowPadding":6}}
}},
{"mark":{"type":"point","opacity":0},
"encoding":{
"x":{"field":"w","type":"quantitative","scale":{"domain":[220,369.1],"nice":false,"zero":false},"axis":{"orient":"bottom","values":[220,260,300,340],"tickSize":4,"tickColor":"#333","labels":false,"domain":false,"grid":false,"title":null}},
"y":{"field":"a","type":"quantitative","scale":{"domain":[0,3],"nice":false,"zero":false},"axis":{"orient":"left","values":[0.25,0.75,1.25,1.75,2.25,2.75],"tickSize":4,"tickColor":"black","labels":false,"domain":false,"grid":false,"title":null}}
}}
],
"resolve":{"axis":{"x":"independent","y":"independent"}}
}
